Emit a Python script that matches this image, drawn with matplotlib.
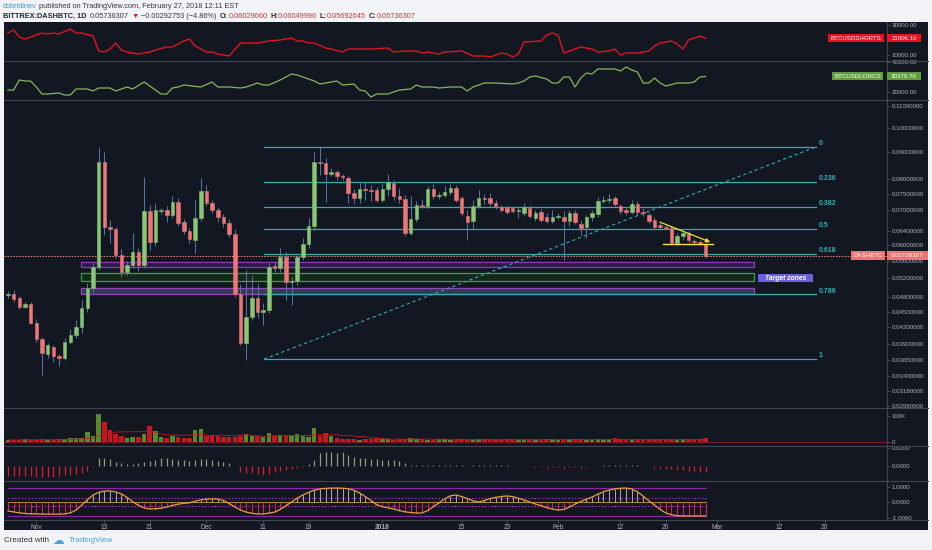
import matplotlib
matplotlib.use("Agg")
import matplotlib.pyplot as plt
import matplotlib.dates as mdates
from matplotlib.patches import Rectangle
from matplotlib.lines import Line2D
from matplotlib.ticker import FixedLocator, FixedFormatter, NullLocator
import numpy as np
import pandas as pd

plt.rcParams["font.family"] = ["Liberation Sans", "DejaVu Sans"]

# ---------------- data (daily DASHBTC candles, Oct 27 2017 -> Feb 27 2018) ----------------
start_date = "2017-10-27"
opens = [0.04836, 0.0486, 0.0477, 0.0459, 0.0465, 0.0428, 0.0399, 0.0374, 0.0386, 0.0371,
         0.0368, 0.0394, 0.0406, 0.0421, 0.0457, 0.0499, 0.0546, 0.0862, 0.0650, 0.0644,
         0.0576, 0.0535, 0.0551, 0.0583, 0.0551, 0.0697, 0.0609, 0.0698, 0.0700, 0.0685,
         0.0725, 0.0664, 0.0639, 0.0614, 0.0676, 0.0760, 0.0722, 0.0700, 0.0679, 0.0661,
         0.0630, 0.0486, 0.0393, 0.0440, 0.0477, 0.0449, 0.0453, 0.0548, 0.0544, 0.0570,
         0.0512, 0.0514, 0.0570, 0.0604, 0.0653, 0.0862, 0.0858, 0.0818, 0.0825, 0.0811,
         0.0804, 0.0754, 0.0737, 0.0767, 0.0763, 0.0763, 0.0731, 0.0767, 0.0788, 0.0744,
         0.0734, 0.0633, 0.0673, 0.0715, 0.0712, 0.0767, 0.0744, 0.0747, 0.0757, 0.0770,
         0.0737, 0.0682, 0.0667, 0.0712, 0.0737, 0.0737, 0.0722, 0.0709, 0.0706, 0.0706,
         0.0697, 0.0691, 0.0706, 0.0676, 0.0694, 0.0679, 0.0667, 0.0679, 0.0679, 0.0667,
         0.0691, 0.0658, 0.0650, 0.0679, 0.0688, 0.0728, 0.0731, 0.0737, 0.0712, 0.0700,
         0.0694, 0.0718, 0.0694, 0.0685, 0.0670, 0.0657, 0.0650, 0.0647, 0.0606, 0.0625,
         0.0633, 0.0611, 0.0608, 0.06029060]
highs = [0.0492, 0.0494, 0.0481, 0.0469, 0.0469, 0.0436, 0.0403, 0.0393, 0.0389, 0.0374,
         0.0401, 0.0417, 0.0434, 0.0473, 0.0510, 0.0556, 0.0920, 0.0901, 0.0670, 0.0650,
         0.0591, 0.0561, 0.0633, 0.0593, 0.0808, 0.0715, 0.0722, 0.0706, 0.0712, 0.0744,
         0.0737, 0.0673, 0.0647, 0.0731, 0.0804, 0.0780, 0.0731, 0.0709, 0.0688, 0.0673,
         0.0644, 0.0507, 0.0539, 0.0525, 0.0510, 0.0467, 0.0556, 0.0558, 0.0593, 0.0583,
         0.0523, 0.0576, 0.0620, 0.0676, 0.0901, 0.0920, 0.0877, 0.0840, 0.0833, 0.0818,
         0.0811, 0.0767, 0.0788, 0.0791, 0.0780, 0.0774, 0.0788, 0.0818, 0.0797, 0.0770,
         0.0747, 0.0744, 0.0728, 0.0734, 0.0777, 0.0784, 0.0757, 0.0777, 0.0784, 0.0780,
         0.0744, 0.0700, 0.0731, 0.0763, 0.0750, 0.0754, 0.0731, 0.0715, 0.0715, 0.0712,
         0.0709, 0.0722, 0.0715, 0.0700, 0.0703, 0.0691, 0.0700, 0.0691, 0.0697, 0.0700,
         0.0700, 0.0670, 0.0685, 0.0700, 0.0741, 0.0744, 0.0750, 0.0744, 0.0718, 0.0709,
         0.0731, 0.0728, 0.0706, 0.0694, 0.0679, 0.0661, 0.0657, 0.0653, 0.0633, 0.0639,
         0.0639, 0.0617, 0.0614, 0.06049996]
lows = [0.0477, 0.0469, 0.0455, 0.0457, 0.0426, 0.0394, 0.0342, 0.0368, 0.0361, 0.0355,
        0.0365, 0.0391, 0.0401, 0.0410, 0.0449, 0.0490, 0.0539, 0.0628, 0.0606, 0.0568,
        0.0523, 0.0528, 0.0544, 0.0537, 0.0544, 0.0588, 0.0598, 0.0688, 0.0664, 0.0676,
        0.0653, 0.0630, 0.0606, 0.0580, 0.0667, 0.0712, 0.0691, 0.0664, 0.0650, 0.0622,
        0.0479, 0.0389, 0.0365, 0.0434, 0.0438, 0.0425, 0.0447, 0.0535, 0.0535, 0.0473,
        0.0463, 0.0505, 0.0563, 0.0593, 0.0642, 0.0815, 0.0725, 0.0811, 0.0797, 0.0797,
        0.0722, 0.0722, 0.0722, 0.0731, 0.0728, 0.0725, 0.0725, 0.0744, 0.0731, 0.0722,
        0.0625, 0.0628, 0.0664, 0.0706, 0.0706, 0.0734, 0.0734, 0.0740, 0.0747, 0.0725,
        0.0682, 0.0614, 0.0644, 0.0706, 0.0718, 0.0712, 0.0703, 0.0694, 0.0688, 0.0691,
        0.0676, 0.0682, 0.0676, 0.0667, 0.0664, 0.0661, 0.0661, 0.0673, 0.0563, 0.0653,
        0.0658, 0.0628, 0.0620, 0.0667, 0.0679, 0.0722, 0.0722, 0.0712, 0.0688, 0.0685,
        0.0688, 0.0685, 0.0682, 0.0661, 0.0644, 0.0642, 0.0644, 0.0603, 0.0601, 0.0614,
        0.0606, 0.0603, 0.0603, 0.05692045]
closes = [0.04857, 0.0475, 0.0459, 0.0465, 0.0428, 0.0399, 0.0376, 0.0389, 0.0371, 0.0368,
          0.0394, 0.0406, 0.0421, 0.0457, 0.0499, 0.0546, 0.0862, 0.0650, 0.0644, 0.0576,
          0.0535, 0.0551, 0.0583, 0.0551, 0.0697, 0.0609, 0.0700, 0.0701, 0.0685, 0.0725,
          0.0661, 0.0639, 0.0617, 0.0676, 0.0760, 0.0722, 0.0700, 0.0679, 0.0661, 0.0630,
          0.0486, 0.0393, 0.0440, 0.0477, 0.0449, 0.0453, 0.0546, 0.0544, 0.0570, 0.0512,
          0.0514, 0.0570, 0.0604, 0.0653, 0.0862, 0.0858, 0.0818, 0.0825, 0.0811, 0.0808,
          0.0754, 0.0737, 0.0767, 0.0763, 0.0760, 0.0731, 0.0767, 0.0791, 0.0744, 0.0734,
          0.0633, 0.0673, 0.0715, 0.0712, 0.0767, 0.0744, 0.0747, 0.0757, 0.0770, 0.0731,
          0.0691, 0.0664, 0.0712, 0.0737, 0.0734, 0.0722, 0.0712, 0.0700, 0.0694, 0.0697,
          0.0700, 0.0709, 0.0682, 0.0691, 0.0670, 0.0667, 0.0679, 0.0682, 0.0667, 0.0691,
          0.0664, 0.0647, 0.0679, 0.0691, 0.0728, 0.0731, 0.0734, 0.0718, 0.0697, 0.0694,
          0.0718, 0.0694, 0.0691, 0.0667, 0.0650, 0.0650, 0.0648, 0.0606, 0.0625, 0.0633,
          0.0614, 0.0608, 0.0603, 0.05736307]

# volume, thousands
volumes = [8, 8, 8, 12, 8, 8, 12, 8, 8, 12, 12, 15, 15,
           15, 38, 23, 108, 77, 46, 31, 23, 15, 19, 19, 31, 62, 42, 19, 15, 23, 19, 15, 15,
           46, 50, 23, 27, 23, 19, 19, 19, 23, 31, 23, 23, 19, 35, 23, 27, 23, 23, 31, 23,
           19, 54, 23, 35, 23, 15,
           12, 10, 12, 8, 10, 12, 15, 12, 10, 8, 12, 10, 15, 12, 10, 8, 8, 12, 10, 8,
           10, 12, 8, 8, 10, 12, 10, 8, 8, 10, 12, 8, 8, 10, 8, 8, 12, 10, 8, 8,
           10, 12, 10, 8, 8, 10, 8, 12, 15, 10, 8, 8, 10, 8, 8, 10, 12, 10, 8, 8,
           10, 8, 12, 10, 15]

# BTCUSDSHORTS (day offset from start, value)
shorts_day = [0, 1, 2, 3, 4, 6, 7, 8, 9, 11, 12, 13, 15, 16, 17, 18, 19, 20, 21, 23, 25, 26, 28, 29,
              31, 32, 33, 35, 36, 37, 39, 41, 44, 46, 48, 50, 51, 52, 53, 54, 56, 57, 59, 60, 62, 64,
              67, 68, 70, 72, 73, 74, 76, 77, 80, 82, 84, 85, 87, 88, 89, 90, 91, 94, 95, 96, 97, 98,
              100, 101, 103, 104, 106, 107, 108, 109, 111, 113, 114, 115, 117, 118, 119, 120, 121,
              122, 123]
shorts_val = [24667, 26667, 22000, 20667, 22000, 24667, 24000, 24667, 24000, 27333, 24667, 24667,
              22667, 12667, 12000, 14000, 18000, 13333, 12000, 10667, 12000, 13333, 15333, 15333,
              19333, 20667, 16000, 12000, 12000, 10667, 9333, 18000, 18000, 19333, 20000, 21333,
              19333, 19333, 18000, 18000, 14667, 14000, 12000, 14000, 14000, 14000, 14667, 12000,
              12667, 12667, 11333, 12000, 10667, 12000, 12667, 9333, 9333, 8667, 11333, 10667,
              8667, 10667, 18667, 19333, 23333, 24667, 23333, 11333, 14000, 15333, 14000, 12000,
              12667, 14000, 10000, 11333, 11333, 12667, 16000, 18000, 19333, 17333, 14000, 20000,
              21333, 22667, 21006.10]

# BTCUSDLONGS (day offset from start, value)
longs_day = [0, 1, 2, 3, 4, 5, 6, 7, 9, 10, 11, 12, 14, 15, 16, 18, 19, 21, 22, 24, 26, 27, 28, 29,
             30, 31, 34, 36, 37, 39, 41, 42, 44, 45, 46, 48, 50, 51, 52, 54, 55, 57, 58, 59, 61, 62,
             63, 64, 65, 67, 69, 71, 72, 73, 75, 76, 78, 80, 81, 82, 84, 86, 89, 90, 91, 92, 93, 95,
             96, 97, 98, 99, 100, 101, 102, 103, 104, 107, 108, 109, 110, 111, 112, 113, 114, 115,
             116, 118, 120, 121, 122, 123]
longs_val = [21333, 21333, 28000, 27333, 27333, 23333, 18667, 18667, 19333, 18000, 18000, 22000,
             22000, 20667, 22667, 22667, 20667, 23333, 22000, 26667, 21333, 18667, 18667, 22667,
             23333, 24667, 23333, 26667, 23333, 23333, 22667, 23333, 26000, 24667, 24667, 28000,
             32000, 31333, 30000, 27333, 25333, 26667, 27333, 24667, 25333, 21333, 20667, 16667,
             18667, 18667, 21333, 22000, 24667, 23333, 23333, 22667, 23333, 23333, 20667, 23333,
             26000, 26000, 25333, 26000, 27333, 30000, 30667, 28667, 26000, 26000, 30000, 30000,
             23333, 29333, 32667, 32000, 35333, 35333, 34000, 36667, 34667, 33333, 26000, 26000,
             29333, 26000, 24000, 26000, 26000, 26667, 30000, 30370.70]

# histogram indicator (panel 4)
hist_vals = [-0.011, -0.011, -0.011, -0.011, -0.011, -0.012, -0.012, -0.012, -0.012, -0.011,
             -0.010, -0.010, -0.009, -0.008, -0.0055, -0.001, 0.009, 0.009, 0.008, 0.0045,
             0.0035, 0.002, 0.002, 0.0035, 0.0045, 0.0055, 0.0065, 0.009, 0.009, 0.008,
             0.0065, 0.0065, 0.0055, 0.0065, 0.008, 0.008, 0.0065, 0.0055, 0.0045, 0.0035,
             0.0, -0.0065, -0.008, -0.008, -0.009, -0.010, -0.009, -0.0065, -0.0055, -0.0045,
             -0.0035, -0.002, -0.001, 0.002, 0.0065, 0.0145, 0.0155, 0.0155, 0.0145, 0.0155,
             0.012, 0.010, 0.009, 0.009, 0.008, 0.008, 0.0065, 0.0065, 0.0065, 0.0055,
             0.0035, 0.001, 0.001, 0.001, 0.001, 0.001, 0.001, 0.001, 0.001, 0.001,
             0.001, 0.0, 0.001, 0.001, 0.001, 0.001, 0.001, 0.001, 0.001, 0.0,
             0.0, 0.0, 0.0, -0.001, -0.001, -0.002, -0.001, -0.001, -0.002, -0.001,
             -0.001, -0.002, -0.001, 0.0, 0.0, 0.001, 0.001, 0.001, 0.001, 0.001,
             0.001, 0.001, 0.0, 0.0, -0.002, -0.002, -0.0035, -0.0035, -0.0045, -0.0045,
             -0.0055, -0.0055, -0.0065, -0.0065]

# oscillator (panel 5)
osc_vals = [-0.58, -0.64, -0.70, -0.74, -0.76, -0.77, -0.78, -0.78, -0.78, -0.78,
            -0.77, -0.70, -0.52, -0.20, 0.15, 0.45, 0.62, 0.70, 0.71, 0.65,
            0.52, 0.30, 0.02, -0.22, -0.38, -0.45, -0.44, -0.40, -0.32, -0.22,
            -0.14, -0.09, -0.05, 0.05, 0.14, 0.19, 0.20, 0.19, 0.10, -0.10,
            -0.32, -0.52, -0.65, -0.73, -0.77, -0.77, -0.72, -0.65, -0.48, -0.25,
            0.0, 0.25, 0.45, 0.62, 0.76, 0.84, 0.88, 0.90, 0.90, 0.89,
            0.86, 0.76, 0.58, 0.35, 0.10, -0.18, -0.30, -0.37, -0.45, -0.55,
            -0.63, -0.68, -0.71, -0.71, -0.55, -0.30, -0.06, 0.20, 0.40, 0.45,
            0.35, 0.22, 0.08, 0.0, 0.10, 0.22, 0.30, 0.36, 0.39, 0.35,
            0.24, 0.13, 0.0, -0.13, -0.24, -0.36, -0.46, -0.52, -0.48, -0.33,
            -0.13, 0.03, 0.18, 0.32, 0.50, 0.66, 0.77, 0.84, 0.89, 0.90,
            0.84, 0.65, 0.38, 0.08, -0.20, -0.48, -0.71, -0.82, -0.88, -0.90,
            -0.90, -0.90, -0.90, -0.90]

# drawings
fib_levels = [0, 0.236, 0.382, 0.5, 0.618, 0.786, 1]
fib_high, fib_low = 0.0921, 0.0366
fib_start, fib_end = "2017-12-11 04:00", "2018-03-18 12:00"
zone_start, zone_end = "2017-11-08 22:00", "2018-03-07 14:00"
zones = [(0.0546, 0.0558, "#a23bd0", "#2a1d48"),
         (0.0515, 0.0532, "#3fb43f", "#152a1e"),
         (0.0486, 0.0499, "#a04cc8", "#34405f")]
arrow_from = ("2018-02-18 12:00", 0.0667)
arrow_to = ("2018-02-28 07:00", 0.0606)
flat_line = ("2018-02-19 12:00", "2018-02-28 07:00", 0.0604)

price_ticks = [0.11, 0.10, 0.09, 0.08, 0.075, 0.07, 0.064, 0.06, 0.056, 0.052, 0.048,
               0.045, 0.042, 0.039, 0.0365, 0.034, 0.0318, 0.0298]
date_ticks = ["2017-11-01", "2017-11-13", "2017-11-21", "2017-12-01", "2017-12-11", "2017-12-19",
              "2018-01-01", "2018-01-15", "2018-01-23", "2018-02-01", "2018-02-12", "2018-02-20",
              "2018-03-01", "2018-03-12", "2018-03-20"]
date_labels = ["Nov", "13", "21", "Dec", "11", "19", "2018", "15", "23", "Feb", "12", "20",
               "Mar", "12", "20"]

# ---------------- styling ----------------
W, H = 932, 550
LIGHT = "#f1f3f7"
DARK = "#131722"
SEP = "#434651"
TICKC = "#5d606b"
LABELC = "#aeb1ba"
UP = "#8cc47a"
DOWN = "#e8797b"
WICK = "#5677a9"
FIB = "#2cb0b0"

fig = plt.figure(figsize=(W / 100, H / 100), dpi=100, facecolor=LIGHT)
fig.patches.append(Rectangle((4 / W, 1 - 530 / H), 924 / W, 508 / H, transform=fig.transFigure,
                             facecolor=DARK, edgecolor="none", zorder=-1))

dates = pd.date_range(start_date, periods=len(opens), freq="D")
xd = mdates.date2num(dates)
x_first = xd[0]
XLIM = (x_first - 0.7, x_first + 155)


def to_x(s):
    return mdates.date2num(pd.Timestamp(s))


def add_ax(y0, y1):
    ax = fig.add_axes([4 / W, 1 - y1 / H, 883 / W, (y1 - y0) / H])
    ax.set_facecolor(DARK)
    ax.set_xlim(*XLIM)
    for s in ax.spines.values():
        s.set_visible(False)
    ax.tick_params(axis="x", bottom=False, labelbottom=False)
    ax.yaxis.tick_right()
    ax.tick_params(axis="y", which="both", length=2, width=0.5, color=TICKC,
                   labelcolor=LABELC, labelsize=4.4, pad=1.5)
    return ax


def set_ticks(ax, ticks, labels):
    ax.yaxis.set_major_locator(FixedLocator(ticks))
    ax.yaxis.set_major_formatter(FixedFormatter(labels))
    ax.yaxis.set_minor_locator(NullLocator())


ax_s = add_ax(22, 61)
ax_l = add_ax(61, 100)
ax = add_ax(100, 408)
ax_v = add_ax(408, 446)
ax_h = add_ax(446, 481)
ax_o = add_ax(481, 520)

# shorts / longs
ax_s.plot(x_first + np.array(shorts_day), shorts_val, color="#e0141e", lw=1.0)
ax_s.set_ylim(6000, 32000)
set_ticks(ax_s, [10000, 30000], ["10000.00", "30000.00"])
ax_l.plot(x_first + np.array(longs_day), longs_val, color="#86b85a", lw=0.9)
ax_l.set_ylim(14667, 40667)
set_ticks(ax_l, [20000, 40000], ["20000.00", "40000.00"])

# main candles
o = np.array(opens); c = np.array(closes); hi = np.array(highs); lo = np.array(lows)
up = c >= o
ax.vlines(xd, lo, hi, color=WICK, lw=0.7, zorder=2)
ax.bar(xd, np.abs(c - o), bottom=np.minimum(o, c), width=0.62,
       color=np.where(up, UP, DOWN), edgecolor=np.where(up, "#74b062", "#d8686a"),
       linewidth=0.5, zorder=3)
ax.set_yscale("log")
ax.set_ylim(0.02959, 0.11291)
set_ticks(ax, price_ticks, [f"{t:.8f}" for t in price_ticks])

# target zones
zx0, zx1 = to_x(zone_start), to_x(zone_end)
for lo_p, hi_p, ec, fc in zones:
    ax.add_patch(Rectangle((zx0, lo_p), zx1 - zx0, hi_p - lo_p, facecolor=fc, edgecolor=ec,
                           linewidth=0.9, alpha=0.9, zorder=1))

# fibonacci retracement
fx0, fx1 = to_x(fib_start), to_x(fib_end)
for lvl in fib_levels:
    p = fib_high - lvl * (fib_high - fib_low)
    ax.plot([fx0, fx1], [p, p], color=FIB, lw=0.9, zorder=1.5)
    ax.annotate(f"{lvl:g}", (fx1 + 0.4, p), xytext=(0, 2.4), textcoords="offset points",
                color=FIB, fontsize=5, fontweight="bold", ha="left", va="center")
ax.plot([fx0, fx1], [fib_low, fib_high], color=FIB, lw=0.8, ls=(0, (3, 2.5)), zorder=1.5)

# yellow arrow + flat line
ax.plot([to_x(flat_line[0]), to_x(flat_line[1])], [flat_line[2], flat_line[2]],
        color="#f5e12a", lw=1.0, zorder=4)
ax.annotate("", xy=(to_x(arrow_to[0]), arrow_to[1]), xytext=(to_x(arrow_from[0]), arrow_from[1]),
            arrowprops=dict(arrowstyle="-|>", color="#f5e12a", lw=0.9, mutation_scale=6),
            zorder=4)

# last price line
last = closes[-1]
ax.axhline(last, color="#f28b82", lw=0.7, ls=(0, (1.5, 1.5)), zorder=1.6)

# volume
ax_v.bar(xd, volumes, width=0.8, color=np.where(up, "#5a8a2c", "#c8151e"), zorder=2)
ax_v.axhline(0, color="#7a1a1f", lw=0.8, zorder=1)
ax_v.plot(xd, pd.Series(volumes).rolling(10, min_periods=1).mean(), color="#c8151e", lw=0.6,
          zorder=3)
ax_v.set_ylim(-15.4, 130.8)
set_ticks(ax_v, [0, 100], ["0", "100K"])

# histogram panel
hv = np.array(hist_vals)
ax_h.vlines(xd, 0, hv, colors=np.where(hv >= 0, "#8e9c7e", "#d3202c"), lw=0.9)
ax_h.set_ylim(-0.0167, 0.0222)
set_ticks(ax_h, [0, 0.02], ["0.0000", "0.0200"])

# oscillator panel
ov = np.array(osc_vals)
ax_o.plot([xd[0], xd[-1]], [0.9, 0.9], color="#8e24aa", lw=0.8)
ax_o.plot([xd[0], xd[-1]], [-0.9, -0.9], color="#8e24aa", lw=0.8)
ax_o.plot([xd[0], xd[-1]], [0.25, 0.25], color="#d62bf0", lw=0.8, ls=(0, (1, 2)))
ax_o.plot([xd[0], xd[-1]], [-0.25, -0.25], color="#d62bf0", lw=0.8, ls=(0, (1, 2)))
ax_o.plot([xd[0], xd[-1]], [0, 0], color="#c9a227", lw=0.6)
ax_o.vlines(xd, 0, ov, colors=np.where(ov >= 0, "#a8b0a0", "#e0244a"), lw=0.7)
ax_o.plot(xd, ov, color="#e6a03c", lw=0.9)
ax_o.set_ylim(-1.161, 1.355)
set_ticks(ax_o, [-1, 0, 1], ["-1.0000", "0.0000", "1.0000"])
ax_o.xaxis.set_major_locator(FixedLocator([to_x(d) for d in date_ticks]))
ax_o.xaxis.set_major_formatter(FixedFormatter(date_labels))
ax_o.tick_params(axis="x", bottom=True, labelbottom=True, length=2, width=0.5, color=TICKC,
                 labelcolor=LABELC, labelsize=4.8, pad=1.2)
for lab in ax_o.get_xticklabels():
    if lab.get_text() == "2018":
        lab.set_fontweight("bold")

# separators
for yp in [61, 100, 408, 446, 481, 520]:
    fig.lines.append(Line2D([4 / W, 928 / W], [1 - yp / H, 1 - yp / H], transform=fig.transFigure,
                            color=SEP, lw=0.8, zorder=5))
fig.lines.append(Line2D([887 / W, 887 / W], [1 - 22 / H, 1 - 520 / H], transform=fig.transFigure,
                        color=SEP, lw=0.8, zorder=5))


def disp_y(a, v):
    return a.transData.transform((XLIM[0], v))[1] / H


def box(x0, x1, yc, hgt, color, text, tcolor="white", size=4.4, italic=False, bold=False):
    fig.patches.append(Rectangle((x0 / W, yc - hgt / 2 / H), (x1 - x0) / W, hgt / H,
                                 transform=fig.transFigure, facecolor=color, edgecolor="none",
                                 zorder=6))
    fig.text((x0 + x1) / 2 / W, yc, text, color=tcolor, fontsize=size, ha="center", va="center",
             fontstyle="italic" if italic else "normal", fontweight="bold" if bold else "normal",
             zorder=7)


ys = disp_y(ax_s, shorts_val[-1])
box(828, 884, ys, 8, "#e8131c", "BTCUSDSHORTS")
box(887, 921, ys, 8, "#e8131c", "21006.10")
yl = disp_y(ax_l, longs_val[-1])
box(832, 883, yl, 8, "#5f9e3a", "BTCUSDLONGS")
box(887, 921, yl, 8, "#5f9e3a", "30370.70")
yp = disp_y(ax, last)
box(851, 885, yp, 9, "#ef7373", "DASHBTC")
box(887, 928, yp, 9, "#ef7373", f"{last:.8f}")
yt = disp_y(ax, 0.0520)
box(758, 813, yt, 8, "#6d5fe0", "Target zones", size=4.9, italic=True, bold=True)

# header and footer text runs
renderer = fig.canvas.get_renderer()


def text_run(x_px, y_px, parts, size=5.3):
    x = x_px
    for s, color, weight, gap in parts:
        t = fig.text(x / W, 1 - y_px / H, s, color=color, fontsize=size, fontweight=weight,
                     ha="left", va="center")
        x += t.get_window_extent(renderer=renderer).width + gap


TXT = "#363a45"
RED = "#e0323a"
text_run(3, 6, [("dobridinev", "#3d9bd8", "normal", 2.5),
                ("published on TradingView.com, February 27, 2018 12:11 EST", TXT, "normal", 0)])
text_run(3, 16, [("BITTREX:DASHBTC, 1D", "#22262e", "bold", 3.5),
                 ("0.05736307", TXT, "normal", 2.5),
                 ("\u25bc", "#c62828", "normal", 2.5),
                 ("\u22120.00292753 (\u22124.86%)", TXT, "normal", 3.5),
                 ("O:", "#22262e", "bold", 0.3), ("0.06029060", RED, "normal", 2.5),
                 ("H:", "#22262e", "bold", 0.3), ("0.06049996", RED, "normal", 2.5),
                 ("L:", "#22262e", "bold", 0.3), ("0.05692045", RED, "normal", 2.5),
                 ("C:", "#22262e", "bold", 0.3), ("0.05736307", RED, "normal", 0)])
text_run(4, 541, [("Created with", "#30343c", "normal", 5)], size=5.8)
fig.text(52 / W, 1 - 540 / H, "\u2601", color="#4aa3df", fontsize=8.5, ha="left", va="center",
         family=["DejaVu Sans"])
fig.text(69 / W, 1 - 541 / H, "TradingView", color="#4aa3df", fontsize=5.8, ha="left",
         va="center")

fig.savefig("out.png", dpi=100, facecolor=LIGHT)
